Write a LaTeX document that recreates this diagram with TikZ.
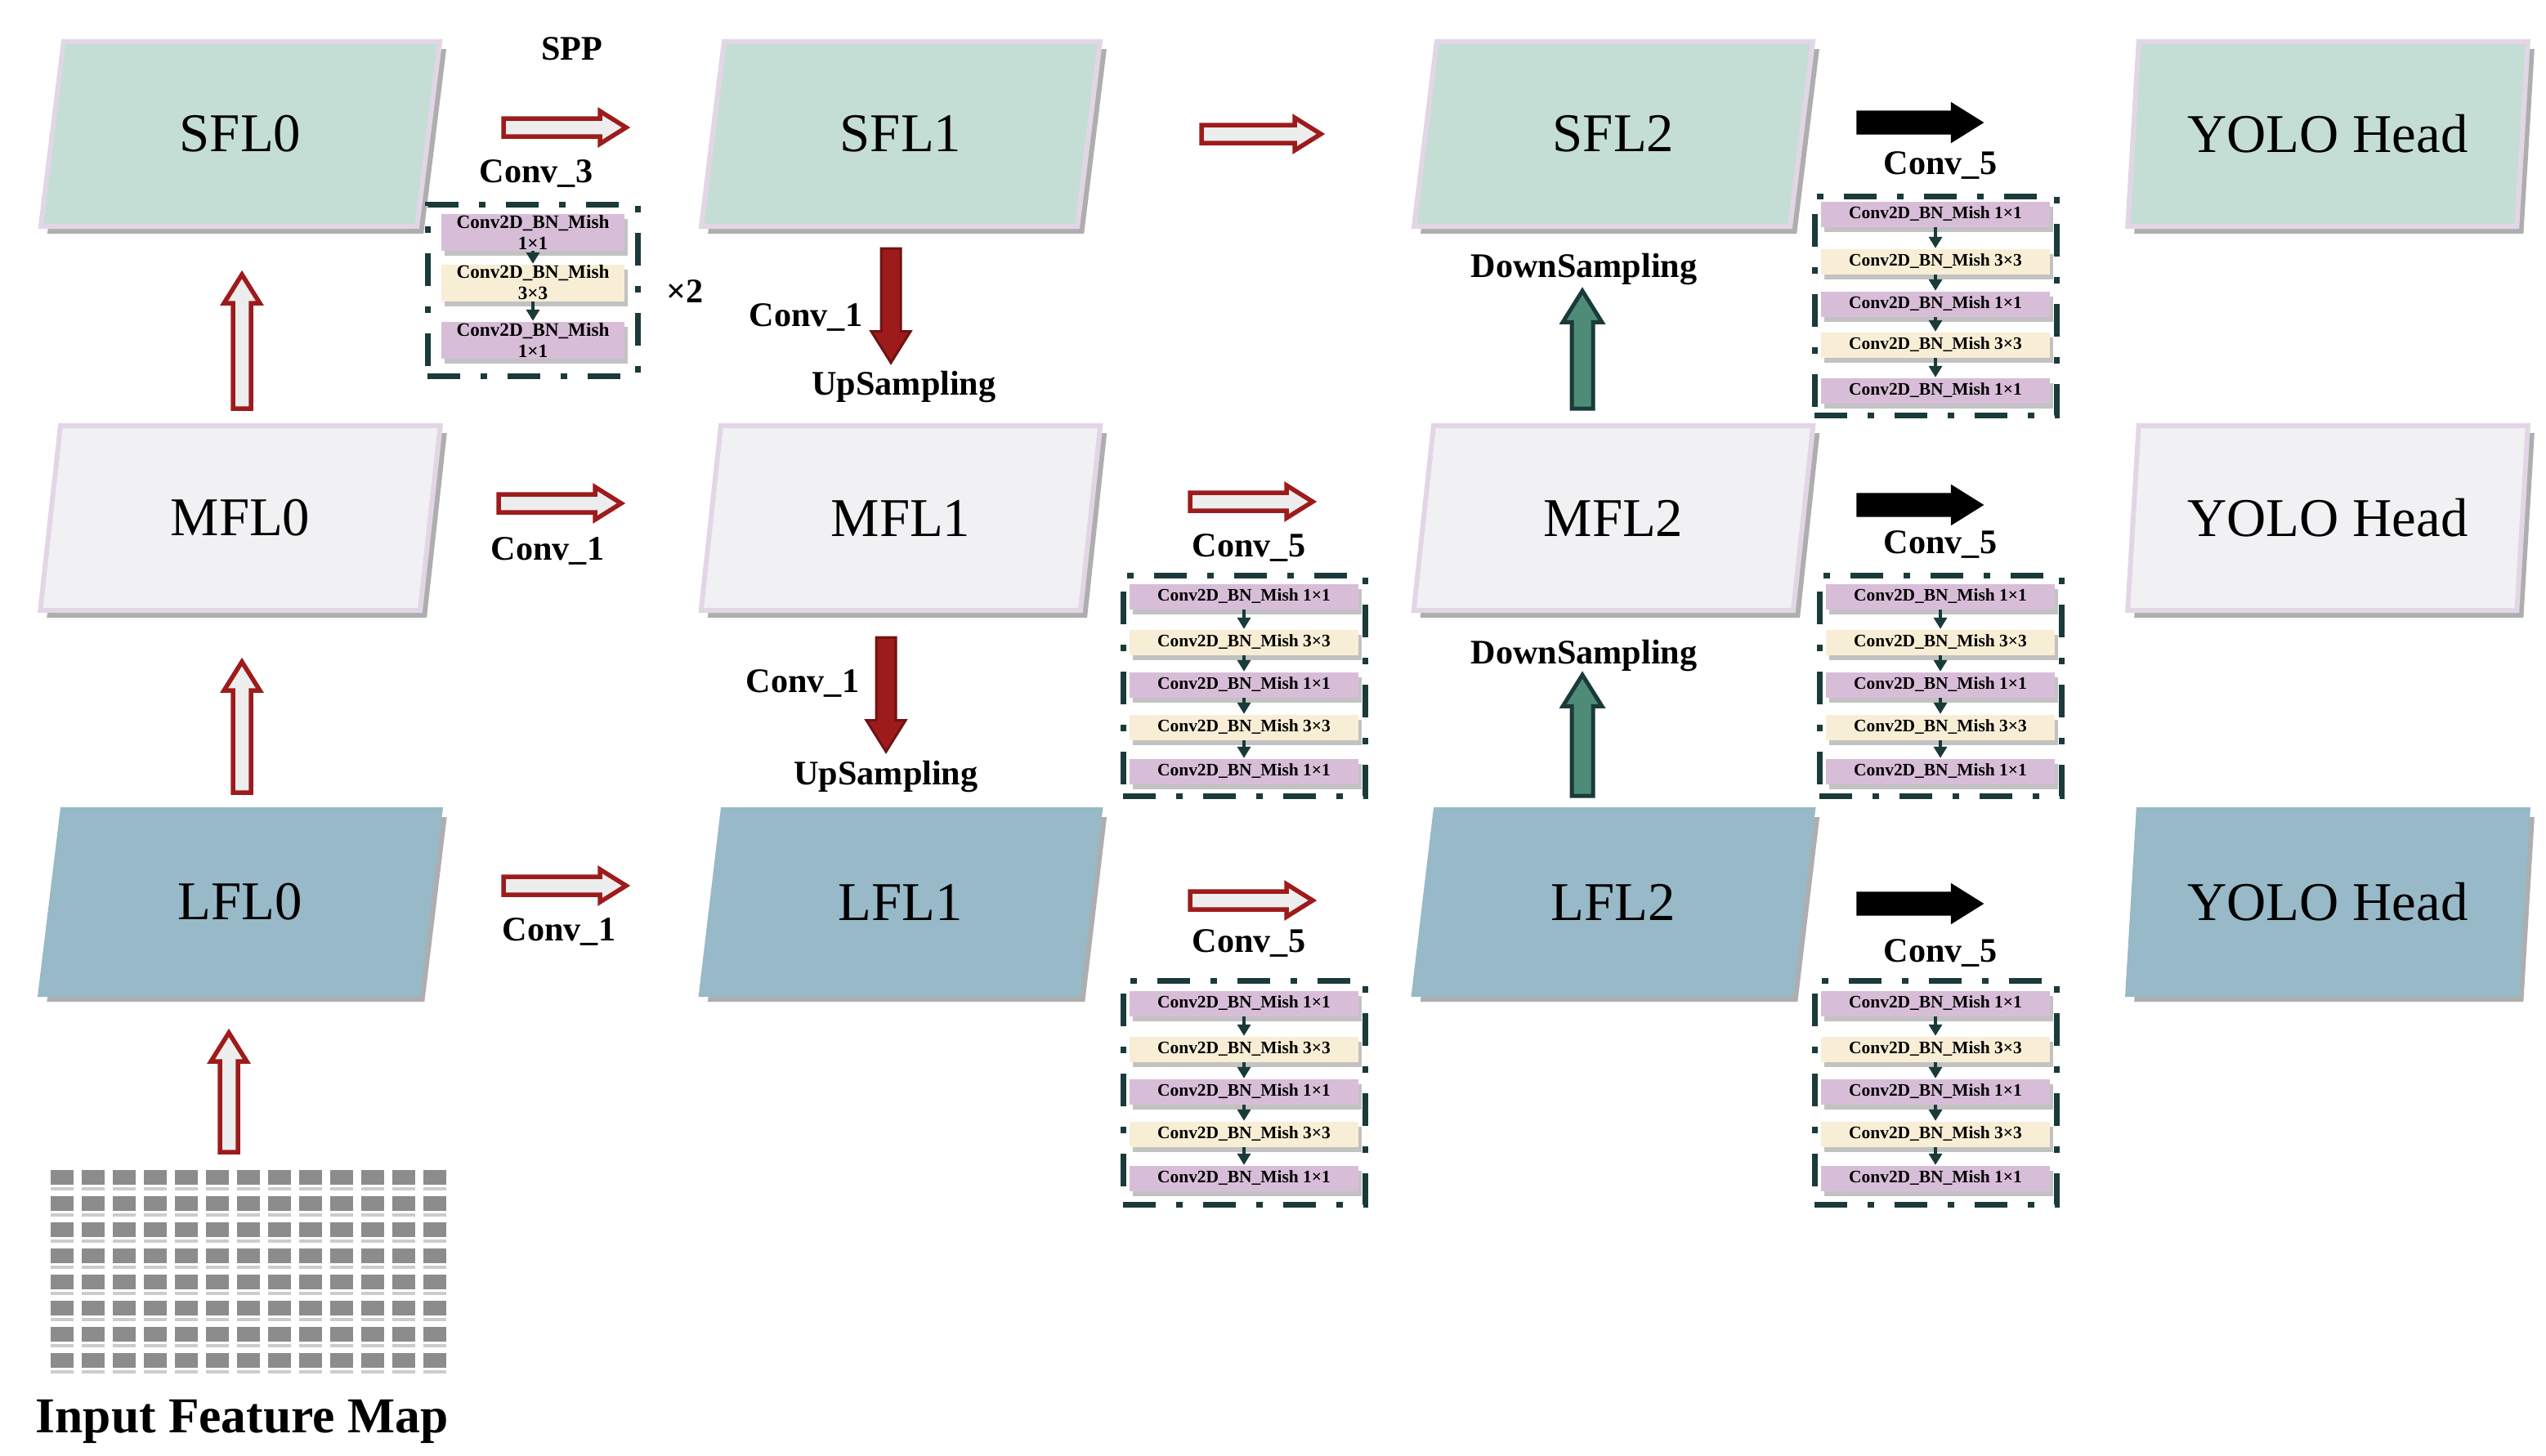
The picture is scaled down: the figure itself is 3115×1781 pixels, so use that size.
\documentclass[tikz,border=0pt]{standalone}
\usepackage{fontspec}
\setmainfont{Liberation Serif}
\usetikzlibrary{shapes.geometric,arrows.meta,shadows}
\definecolor{cS}{HTML}{C5DED5}
\definecolor{cM}{HTML}{F1F1F3}
\definecolor{cL}{HTML}{97B9C8}
\definecolor{cedge}{HTML}{E2D6E6}
\definecolor{pinkc}{HTML}{D8BDD8}
\definecolor{creamc}{HTML}{F7EED5}
\definecolor{teal}{HTML}{1B3A3A}
\definecolor{dred}{HTML}{9E1B1B}
\definecolor{gfill}{HTML}{4F8C78}
\tikzset{
  feat/.style={trapezium, trapezium left angle=78, trapezium right angle=102, trapezium stretches=true,
    minimum width=49mm, minimum height=22.6mm, inner sep=0pt, outer sep=0pt, draw=cedge, line width=0.6mm,
    font=\fontsize{19}{22}\selectfont,
    drop shadow={shadow xshift=0.8mm, shadow yshift=-0.9mm, opacity=0.45, fill=black!70}},
  lbl/.style={font=\bfseries\fontsize{12}{14}\selectfont, inner sep=0pt},
  blk/.style={draw=teal, line width=0.7mm, outer sep=0pt, dash pattern=on 4mm off 2.5mm on 0.8mm off 2.5mm},
  cell/.style={minimum width=28mm, minimum height=3.1mm, inner sep=0pt,
    font=\bfseries\fontsize{6.1}{7}\selectfont,
    drop shadow={shadow xshift=0.4mm, shadow yshift=-0.6mm, opacity=0.4, fill=black!60}},
  small/.style={-{Triangle[length=1.4mm,width=1.6mm]}, teal, line width=0.4mm},
  hol/.style={draw=dred, line width=0.55mm, fill=black!7},
  blkarr/.style={fill=black, draw=black},
  redarr/.style={fill=dred, draw=dred!70!black, line width=0.3mm},
  grnarr/.style={fill=gfill, draw=teal, line width=0.5mm},
}
% style x y angle length halfshaft halfhead
\newcommand\myarrow[7]{\draw[#1, shift={(#2,#3)}, rotate=#4]
  (0,-#6) -- ({#5-#7*1.6},-#6) -- ({#5-#7*1.6},-#7) -- (#5,0) -- ({#5-#7*1.6},#7) -- ({#5-#7*1.6},#6) -- (0,#6) -- cycle;}
% five-row conv block: name, bx, y0, y1, r1..r4 ; then r5
\newcommand\convfive[8]{
  \node[blk, inner sep=0pt, minimum width=29.6mm, minimum height={(#4-#3)*0.1mm}, anchor=north west] (#1) at (#2,#3) {};
  \node[cell, fill=pinkc] (#1a) at ({#2+148},#5) {Conv2D\_BN\_Mish 1×1};
  \node[cell, fill=creamc] (#1b) at ({#2+148},#6) {Conv2D\_BN\_Mish 3×3};
  \node[cell, fill=pinkc] (#1c) at ({#2+148},#7) {Conv2D\_BN\_Mish 1×1};
  \node[cell, fill=creamc] (#1d) at ({#2+148},#8) {Conv2D\_BN\_Mish 3×3};
  \convfiveend{#1}{#2}}
\newcommand\convfiveend[3]{
  \node[cell, fill=pinkc] (#1e) at ({#2+148},#3) {Conv2D\_BN\_Mish 1×1};
  \draw[small] (#1a) -- (#1b); \draw[small] (#1b) -- (#1c);
  \draw[small] (#1c) -- (#1d); \draw[small] (#1d) -- (#1e);}
\begin{document}
\begin{tikzpicture}[x=0.1mm,y=-0.1mm]
\useasboundingbox (0,0) rectangle (3115,1781);
% feature nodes
\node[feat, fill=cS] (S0) at (294,164) {SFL0};
\node[feat, fill=cS] (S1) at (1102,164) {SFL1};
\node[feat, fill=cS] (S2) at (1974,164) {SFL2};
\node[feat, fill=cS] (S3) at (2848,164) {YOLO Head};
\node[feat, fill=cM] (M0) at (294,634) {MFL0};
\node[feat, fill=cM] (M1) at (1102,634) {MFL1};
\node[feat, fill=cM] (M2) at (1974,634) {MFL2};
\node[feat, fill=cM] (M3) at (2848,634) {YOLO Head};
\node[feat, fill=cL, draw=cL] (L0) at (294,1104) {LFL0};
\node[feat, fill=cL, draw=cL] (L1) at (1102,1104) {LFL1};
\node[feat, fill=cL, draw=cL] (L2) at (1974,1104) {LFL2};
\node[feat, fill=cL, draw=cL] (L3) at (2848,1104) {YOLO Head};
% input feature map
\foreach \i in {0,...,12}{\foreach \j in {0,...,7}{
  \fill[black!45] ({62+\i*38},{1432+\j*32}) rectangle ++(28,18);
  \fill[black!20] ({62+\i*38},{1453+\j*32}) rectangle ++(28,4);}}
\node[font=\bfseries\fontsize{17.5}{20}\selectfont, inner sep=0pt] (inp) at (296,1740) {Input Feature Map};
% Conv_3 block
\node[blk, inner sep=0pt, minimum width=25.7mm, minimum height=21mm, anchor=north west] (c3) at (523,250) {};
\node[cell, fill=pinkc, minimum width=22.4mm, minimum height=4.5mm, align=center, font=\bfseries\fontsize{6.6}{7.4}\selectfont] (c3a) at (652,284) {Conv2D\_BN\_Mish\\1×1};
\node[cell, fill=creamc, minimum width=22.4mm, minimum height=4.5mm, align=center, font=\bfseries\fontsize{6.6}{7.4}\selectfont] (c3b) at (652,346) {Conv2D\_BN\_Mish\\3×3};
\node[cell, fill=pinkc, minimum width=22.4mm, minimum height=4.5mm, align=center, font=\bfseries\fontsize{6.6}{7.4}\selectfont] (c3c) at (652,416) {Conv2D\_BN\_Mish\\1×1};
\draw[small] (c3a) -- (c3b); \draw[small] (c3b) -- (c3c);
\node[lbl] (x2) at (838,357) {×2};
% Conv_5 blocks
\convfive{b1}{1374}{704}{974}{730}{786}{838}{890}{944}
\convfive{b2}{1374}{1200}{1474}{1228}{1284}{1336}{1388}{1442}
\convfive{b3}{2220}{240}{508}{262}{320}{372}{422}{478}
\convfive{b4}{2226}{704}{974}{730}{786}{838}{890}{944}
\convfive{b5}{2220}{1200}{1474}{1228}{1284}{1336}{1388}{1442}
% labels
\node[lbl] at (700,60) {SPP};
\node[lbl] at (656,212) {Conv\_3};
\node[lbl] at (986,388) {Conv\_1};
\node[lbl] at (1106,474) {UpSampling};
\node[lbl] at (670,674) {Conv\_1};
\node[lbl] at (982,836) {Conv\_1};
\node[lbl] at (1084,950) {UpSampling};
\node[lbl] at (684,1140) {Conv\_1};
\node[lbl] at (1528,670) {Conv\_5};
\node[lbl] at (1528,1154) {Conv\_5};
\node[lbl] at (1938,330) {DownSampling};
\node[lbl] at (1938,802) {DownSampling};
\node[lbl] at (2374,202) {Conv\_5};
\node[lbl] at (2374,666) {Conv\_5};
\node[lbl] at (2374,1166) {Conv\_5};
% arrows
\myarrow{hol}{616}{156}{0}{150}{11}{20}
\myarrow{hol}{1470}{164}{0}{146}{11}{20}
\myarrow{hol}{610}{616}{0}{150}{11}{20}
\myarrow{hol}{616}{1084}{0}{150}{11}{20}
\myarrow{hol}{1456}{614}{0}{150}{11}{20}
\myarrow{hol}{1456}{1102}{0}{150}{11}{20}
\myarrow{blkarr}{2272}{150}{0}{154}{14}{24}
\myarrow{blkarr}{2272}{618}{0}{154}{14}{24}
\myarrow{blkarr}{2272}{1106}{0}{154}{14}{24}
\myarrow{hol}{296}{500}{90}{164}{11}{22}
\myarrow{hol}{296}{970}{90}{160}{11}{22}
\myarrow{hol}{280}{1410}{90}{146}{11}{22}
\myarrow{redarr}{1090}{304}{-90}{140}{12}{24}
\myarrow{redarr}{1084}{780}{-90}{140}{12}{24}
\myarrow{grnarr}{1936}{500}{90}{144}{13}{24}
\myarrow{grnarr}{1936}{974}{90}{148}{13}{24}
\end{tikzpicture}
\end{document}
